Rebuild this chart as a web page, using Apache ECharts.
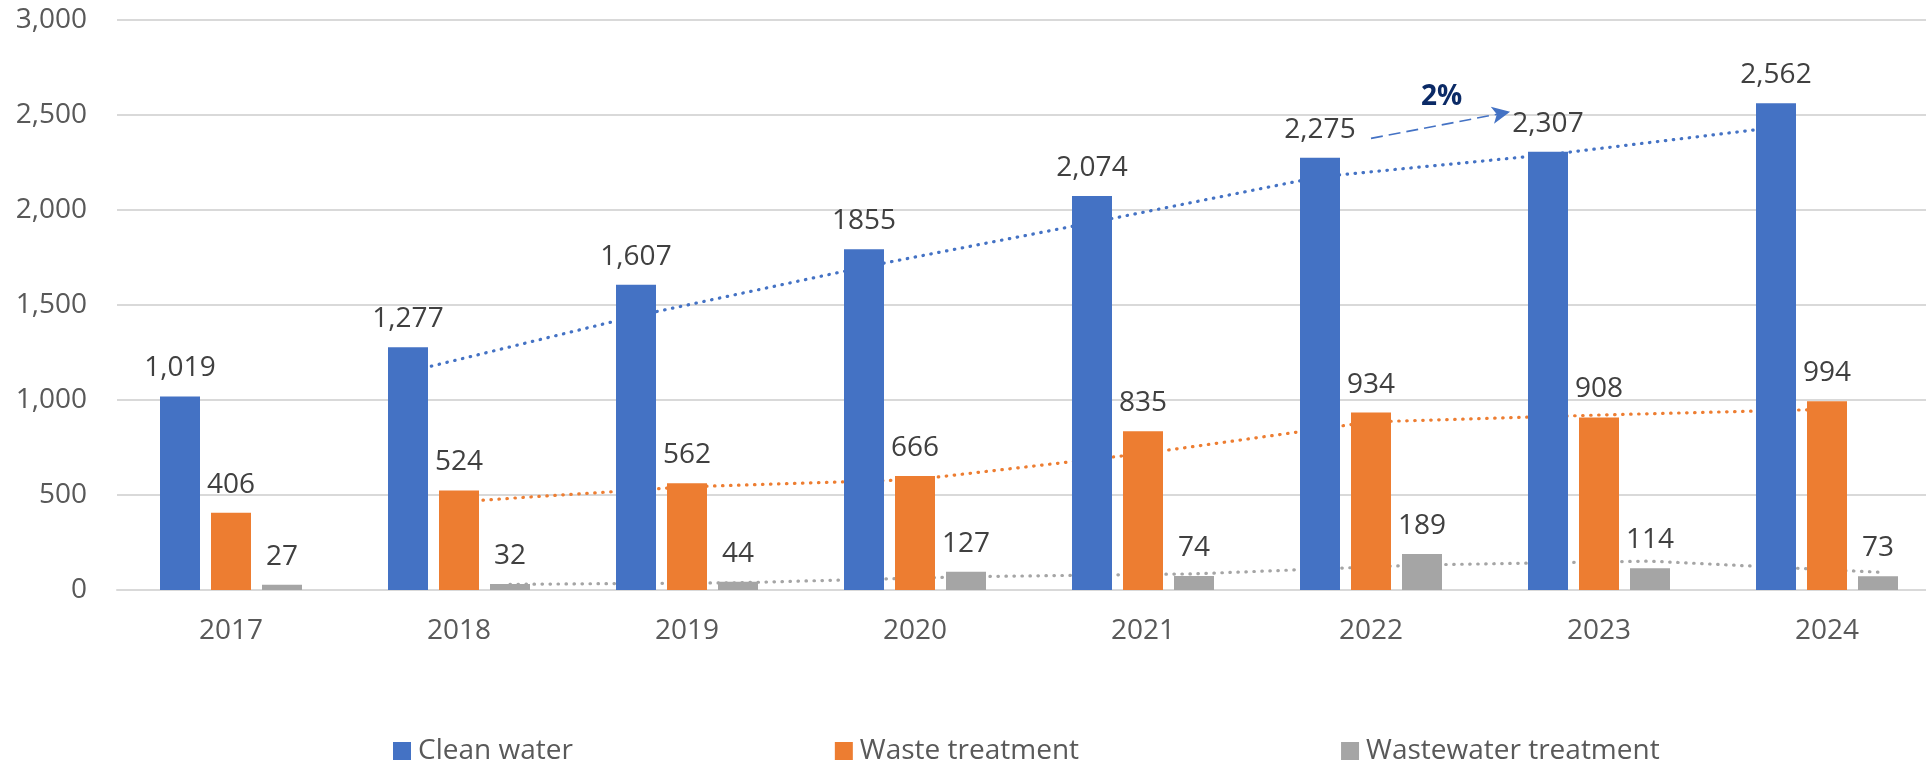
<!DOCTYPE html>
<html>
<head>
<meta charset="utf-8">
<script src="https://cdn.jsdelivr.net/npm/echarts@6/dist/echarts.min.js"></script>
<style>html,body{margin:0;padding:0;background:#fff;overflow:hidden;}#c{width:1950px;height:765px;}</style>
</head>
<body>
<div id="c"></div>
<script>
// ---- data ----
const years = ['2017','2018','2019','2020','2021','2022','2023','2024'];
const yTicks = [0, 500, 1000, 1500, 2000, 2500, 3000];
const seriesNames = ['Clean water','Waste treatment','Wastewater treatment'];
const cleanWater = [1019, 1277, 1607, 1793, 2074, 2275, 2307, 2562];
const wasteTreatment = [406, 524, 562, 600, 835, 934, 908, 994];
const wastewaterTreatment = [27, 32, 44, 96, 74, 189, 114, 73];
const cleanWaterLabels = ['1,019','1,277','1,607','1855','2,074','2,275','2,307','2,562'];
const wasteLabels = ['406','524','562','666','835','934','908','994'];
const wastewaterLabels = ['27','32','44','127','74','189','114','73'];
// trend lines (2-period moving average as drawn in the picture)
const cleanWaterTrend = [null, 1148, 1442, 1700, 1934, 2175, 2291, 2435];
const wasteTrend = [null, 465, 543, 581, 718, 885, 921, 951];
const wastewaterTrend = [null, 30, 38, 70, 85, 132, 152, 94];
// annotation
const growthText = '2%';
const arrowFrom = [5.0, 2377];
const arrowTo = [5.61, 2517];
const growthTextAt = [5.31, 2592];

// ---- layout / style ----
const colors = ['#4472C4', '#ED7D31', '#A5A5A5'];
const FONT = 'Open Sans';
const gridLeft = 117, gridTop = 20, gridWidth = 1824, gridBottom = 175;
const barWidth = 40, barGapPx = 11;
const catWidth = gridWidth / years.length;

function trendData(values, seriesIdx) {
  const off = (seriesIdx - 1) * (barWidth + barGapPx) / catWidth;
  const out = [];
  values.forEach((v, i) => { if (v != null) out.push([i + off, v]); });
  return out;
}

function barSeries(idx, values, labels) {
  return {
    name: seriesNames[idx], type: 'bar', data: values,
    barWidth: barWidth, barGap: (barGapPx / barWidth * 100) + '%',
    itemStyle: { color: colors[idx] }, z: 3,
    label: {
      show: true, position: 'top', distance: 14,
      fontFamily: FONT, fontSize: 28, color: '#404040',
      formatter: p => labels[p.dataIndex]
    }
  };
}

function trendSeries(idx, values) {
  return {
    name: seriesNames[idx] + ' trend', type: 'line', xAxisIndex: 1, yAxisIndex: 0,
    data: trendData(values, idx), symbol: 'none', z: 1, silent: true,
    lineStyle: { color: colors[idx], width: 3.2, type: [0.5, 7.5], cap: 'round' }
  };
}

const chart = echarts.init(document.getElementById('c'));
const trendBlue = trendSeries(0, cleanWaterTrend);
trendBlue.markLine = {
  silent: true, symbol: ['none', 'arrow'], symbolSize: [13, 18],
  label: { show: false },
  lineStyle: { color: '#4472C4', width: 1.6, type: [12, 6] },
  data: [[{ coord: arrowFrom }, { coord: arrowTo }]]
};
trendBlue.markPoint = {
  silent: true, symbol: 'circle', symbolSize: 1,
  itemStyle: { color: 'rgba(0,0,0,0)' },
  label: { show: true, position: 'inside', formatter: growthText, fontFamily: FONT,
           fontSize: 28, fontWeight: 'bold', color: '#0B2A66' },
  data: [{ coord: growthTextAt }]
};

chart.setOption({
  animation: false,
  textStyle: { fontFamily: FONT },
  grid: { left: gridLeft, top: gridTop, width: gridWidth, bottom: gridBottom, containLabel: false },
  legend: {
    data: seriesNames, left: 393, top: 737, padding: 0,
    itemWidth: 18, itemHeight: 18, itemGap: 262, icon: 'rect',
    textStyle: { fontFamily: FONT, fontSize: 28, color: '#595959', padding: [0, 0, 0, 2] }
  },
  xAxis: [
    {
      type: 'category', data: years,
      axisLine: { lineStyle: { color: '#D9D9D9', width: 2 } },
      axisTick: { show: false },
      axisLabel: { fontFamily: FONT, fontSize: 28, color: '#595959', margin: 27 }
    },
    { type: 'value', min: -0.5, max: years.length - 0.5, show: false }
  ],
  yAxis: {
    type: 'value', min: yTicks[0], max: yTicks[yTicks.length - 1], interval: yTicks[1] - yTicks[0],
    axisLine: { show: false }, axisTick: { show: false },
    splitLine: { lineStyle: { color: '#D9D9D9', width: 2 } },
    axisLabel: { fontFamily: FONT, fontSize: 28, color: '#595959', margin: 30,
                 formatter: v => v.toLocaleString('en-US') }
  },
  series: [
    barSeries(0, cleanWater, cleanWaterLabels),
    barSeries(1, wasteTreatment, wasteLabels),
    barSeries(2, wastewaterTreatment, wastewaterLabels),
    trendBlue,
    trendSeries(1, wasteTrend),
    trendSeries(2, wastewaterTrend)
  ]
});
</script>
</body>
</html>
